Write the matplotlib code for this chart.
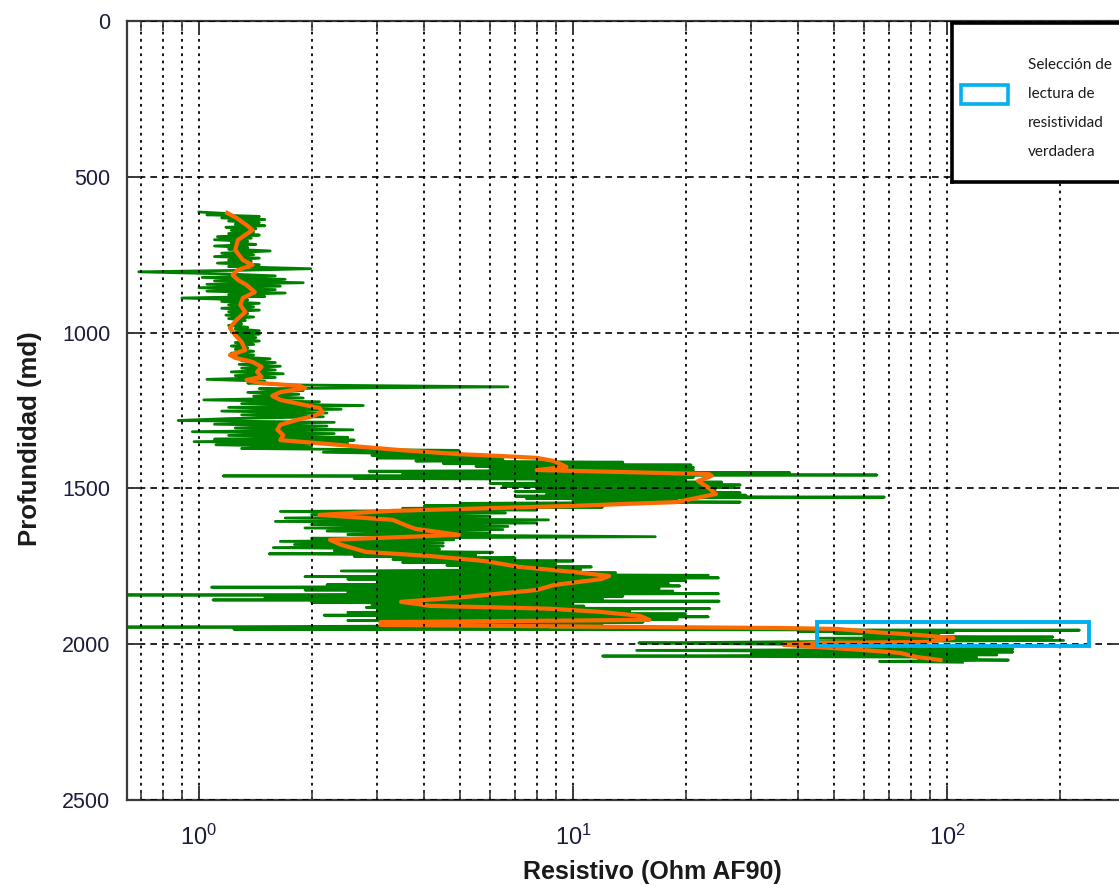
import matplotlib
matplotlib.use('Agg')
import matplotlib.pyplot as plt
from matplotlib.patches import Rectangle
from matplotlib.ticker import LogLocator, NullFormatter

# registro AF90: profundidad (md) vs resistividad (ohm)
prof_raw = [
    613, 618, 622, 627, 632, 637, 642, 647, 652, 657,
    662, 667, 672, 677, 682, 687, 692, 697, 702, 707,
    712, 717, 722, 727, 732, 738, 745, 750, 756, 761,
    767, 772, 777, 782, 788, 795, 800, 805, 812, 818,
    823, 829, 834, 840, 845, 851, 856, 862, 867, 873,
    878, 884, 889, 895, 900, 906, 911, 917, 922, 928,
    933, 939, 944, 950, 955, 961, 966, 972, 977, 983,
    988, 994, 999, 1005, 1010, 1016, 1021, 1027, 1032, 1038,
    1043, 1049, 1054, 1060, 1066, 1072, 1078, 1084, 1090, 1096,
    1102, 1108, 1114, 1120, 1126, 1132, 1138, 1144, 1150, 1156,
    1162, 1168, 1174, 1180, 1186, 1192, 1198, 1204, 1210, 1216,
    1222, 1228, 1234, 1240, 1246, 1252, 1258, 1264, 1270, 1276,
    1282, 1288, 1294, 1300, 1306, 1312, 1318, 1324, 1330, 1336,
    1342, 1345, 1350, 1355, 1360, 1366, 1372, 1378, 1384, 1390,
    1394, 1398, 1402, 1407, 1412, 1416, 1420, 1425, 1429, 1433,
    1437, 1441, 1445, 1450, 1454, 1457, 1460, 1464, 1468, 1472,
    1476, 1480, 1484, 1489, 1493, 1497, 1501, 1505, 1510, 1514,
    1518, 1522, 1525, 1528, 1532, 1536, 1540, 1544, 1548, 1552,
    1556, 1560, 1564, 1569, 1574, 1579, 1584, 1590, 1595, 1601,
    1606, 1611, 1616, 1622, 1627, 1632, 1637, 1643, 1648, 1655,
    1660, 1665, 1670, 1675, 1680, 1685, 1690, 1695, 1700, 1705,
    1710, 1714, 1718, 1723, 1728, 1733, 1737, 1742, 1747, 1752,
    1756, 1760, 1765, 1770, 1775, 1779, 1783, 1787, 1791, 1796,
    1800, 1805, 1809, 1813, 1817, 1821, 1826, 1830, 1834, 1838,
    1842, 1846, 1850, 1855, 1858, 1862, 1866, 1870, 1874, 1878,
    1882, 1886, 1890, 1894, 1898, 1903, 1907, 1912, 1916, 1920,
    1924, 1929, 1934, 1940, 1945, 1949, 1952, 1955, 1958, 1962,
    1966, 1970, 1974, 1977, 1981, 1985, 1988, 1992, 1996, 2000,
    2003, 2008, 2012, 2016, 2020, 2025, 2029, 2034, 2038, 2042,
    2046, 2051, 2055, 2058]
res_raw = [
    1.0, 1.2, 1.05, 1.45, 1.15, 1.5, 1.2, 1.45, 1.25, 1.5,
    1.18, 1.42, 1.22, 1.4, 1.2, 1.45, 1.12, 1.38, 1.1, 1.35,
    1.22, 1.42, 1.1, 1.35, 1.2, 1.55, 1.15, 1.4, 1.1, 1.45,
    1.2, 1.38, 1.12, 1.45, 1.2, 1.99, 1.3, 0.69, 1.2, 1.6,
    1.02, 1.7, 1.1, 1.9, 1.05, 1.65, 1.0, 1.6, 1.05, 1.7,
    1.2, 1.5, 0.9, 1.35, 1.15, 1.45, 1.2, 1.4, 1.15, 1.45,
    1.2, 1.35, 1.18, 1.4, 1.2, 1.33, 1.25, 1.3, 1.2, 1.35,
    1.25, 1.45, 1.22, 1.45, 1.25, 1.42, 1.28, 1.45, 1.25, 1.4,
    1.22, 1.35, 1.25, 1.4, 1.22, 1.4, 1.25, 1.55, 1.3, 1.6,
    1.28, 1.65, 1.3, 1.6, 1.22, 1.68, 1.25, 1.6, 1.05, 1.5,
    1.35, 1.8, 6.7, 1.45, 1.9, 1.35, 1.85, 1.4, 1.9, 1.03,
    2.1, 1.3, 2.75, 1.2, 2.4, 1.15, 2.2, 1.3, 2.15, 1.2,
    0.88, 2.3, 1.1, 2.2, 1.25, 2.58, 0.96, 2.3, 1.2, 2.5,
    1.1, 2.6, 0.97, 2.5, 1.11, 2.0, 1.3, 4.95, 2.15, 4.5,
    2.9, 7.0, 3.0, 6.5, 3.8, 13.6, 4.5, 20.7, 5.5, 21.0,
    6.0, 21.0, 2.85, 38.0, 3.5, 65.0, 1.16, 21.0, 2.6, 20.0,
    8.0, 25.0, 6.0, 28.0, 6.5, 27.0, 8.0, 24.0, 7.0, 28.0,
    8.5, 29.0, 7.0, 68.0, 7.5, 19.0, 10.0, 28.0, 5.0, 13.0,
    4.0, 12.0, 3.5, 8.0, 1.65, 6.6, 2.0, 6.0, 1.7, 8.6,
    1.6, 8.0, 2.0, 6.7, 1.92, 6.5, 2.2, 6.0, 2.5, 16.6,
    2.0, 4.8, 1.65, 4.5, 1.8, 4.5, 1.58, 4.4, 2.3, 6.1,
    1.54, 5.5, 2.6, 7.0, 3.3, 10.0, 3.5, 9.0, 4.6, 11.2,
    5.0, 10.5, 2.4, 13.0, 3.0, 23.0, 1.92, 24.5, 2.5, 20.0,
    3.0, 18.0, 2.2, 19.3, 1.08, 17.0, 1.92, 18.5, 2.5, 24.5,
    0.6, 13.6, 1.5, 12.0, 1.09, 24.6, 2.0, 10.0, 2.9, 10.7,
    2.8, 23.2, 3.0, 14.2, 2.5, 20.0, 2.16, 23.0, 3.0, 19.0,
    2.5, 15.4, 4.0, 12.0, 0.6, 8.6, 1.24, 226, 40, 104,
    50, 95, 60, 192, 45, 110, 205, 40, 15, 36,
    40, 120, 60, 150, 14.8, 150, 30, 136, 12, 120,
    84, 146, 66, 110]

# curva suavizada
prof_suav = [
    616, 632, 655, 671, 703, 735, 767, 783, 799, 815,
    831, 847, 870, 889, 911, 934, 959, 985, 1008, 1030,
    1056, 1072, 1081, 1094, 1110, 1126, 1142, 1152, 1162, 1171,
    1178, 1191, 1203, 1216, 1229, 1242, 1255, 1268, 1280, 1296,
    1312, 1329, 1345, 1361, 1377, 1390, 1396, 1402, 1412, 1431,
    1441, 1454, 1460, 1476, 1499, 1518, 1544, 1556, 1572, 1585,
    1601, 1620, 1630, 1649, 1665, 1681, 1704, 1717, 1733, 1752,
    1768, 1781, 1791, 1810, 1826, 1848, 1864, 1877, 1886, 1896,
    1909, 1922, 1929, 1938, 1945, 1948, 1951, 1961, 1970, 1980,
    1993, 1996, 2002, 2018, 2028, 2041, 2051]
res_suav = [
    1.19, 1.26, 1.34, 1.39, 1.27, 1.25, 1.31, 1.39, 1.27, 1.23,
    1.27, 1.34, 1.41, 1.31, 1.29, 1.33, 1.26, 1.21, 1.25, 1.30,
    1.33, 1.21, 1.25, 1.39, 1.47, 1.43, 1.47, 1.34, 1.46, 1.86,
    1.92, 1.65, 1.57, 1.65, 1.86, 2.1, 2.14, 2.02, 1.83, 1.65,
    1.62, 1.68, 1.65, 2.4, 3.45, 4.95, 6.4, 8.0, 8.9, 9.6,
    8.0, 23.1, 23.5, 21.6, 23.1, 24.1, 18.9, 10.0, 3.3, 2.1,
    3.3, 3.6, 3.8, 4.95, 2.24, 2.4, 2.8, 4.15, 5.8, 7.2,
    10.0, 12.5, 11.9, 8.9, 8.0, 5.2, 3.47, 4.15, 8.6, 11.8,
    15.1, 16.0, 3.06, 3.06, 16.1, 35.8, 50.9, 63.6, 83, 104,
    88, 43.8, 36.6, 58.6, 75, 83, 96]

# zona seleccionada (resistividad verdadera)
sel_res = [45, 240]
sel_prof = [1928, 2006]

prof_ticks = [0, 500, 1000, 1500, 2000, 2500]
leyenda = ['Selección de', 'lectura de', 'resistividad', 'verdadera']

plt.rcParams['font.family'] = ['Liberation Sans', 'DejaVu Sans']
plt.rcParams['mathtext.fontset'] = 'custom'
plt.rcParams['mathtext.rm'] = 'Liberation Sans'

fig = plt.figure(figsize=(11.19, 8.85), dpi=100)
ax = fig.add_axes([127/1119, 85/885, 998.4/1119, 779/885])

ax.plot(res_raw, prof_raw, color='#008000', lw=2.0)
ax.plot(res_suav, prof_suav, color='#FF6A00', lw=3.0)
ax.add_patch(Rectangle((sel_res[0], sel_prof[0]), sel_res[1]-sel_res[0],
                       sel_prof[1]-sel_prof[0], fill=False,
                       edgecolor='#00B0F0', lw=2.8, zorder=4))

ax.set_xscale('log')
ax.set_xlim(0.642, 300)
ax.set_ylim(2500, 0)
ax.set_yticks(prof_ticks)
ax.xaxis.set_minor_locator(LogLocator(base=10, subs=range(2, 10)))
ax.xaxis.set_minor_formatter(NullFormatter())

ax.set_axisbelow(False)
ax.xaxis.grid(True, which='both', color='k', lw=1.3, ls=(0, (1.5, 2.5)))
ax.yaxis.grid(True, which='major', color='k', lw=1.2, ls=(0, (4, 3)))

for s in ax.spines.values():
    s.set_color('#3a3a3a')
    s.set_linewidth(1.6)
ax.tick_params(which='both', direction='in', top=True, right=True,
               color='#3a3a3a', labelcolor='#1c1c3c')
ax.tick_params(which='major', length=10, width=1.4)
ax.tick_params(which='minor', length=7, width=1.2)
ax.tick_params(axis='y', labelsize=15.5, pad=12)
ax.tick_params(axis='x', labelsize=17, pad=18)

ax.set_xlabel('Resistivo (Ohm AF90)', fontsize=18, fontweight='bold',
              color='#1a1a1a', va='center')
ax.xaxis.set_label_coords((652 - 127) / 998.4, (800 - 872) / 779)
ax.set_ylabel('Profundidad (md)', fontsize=18.5, fontweight='bold',
              color='#1a1a1a', va='center')
ax.yaxis.set_label_coords((30 - 127) / 998.4, (800 - 439) / 779)

# caja de leyenda
lg = fig.add_axes([952/1119, 703/885, 0.16, 159/885])
lg.set_xlim(0, 1)
lg.set_ylim(0, 1)
lg.set_xticks([])
lg.set_yticks([])
for s in lg.spines.values():
    s.set_color('black')
    s.set_linewidth(2.6)
lg.add_patch(Rectangle((0.05, 0.49), 0.265, 0.12, fill=False,
                       edgecolor='#00B0F0', lw=2.6))
for i, linea in enumerate(leyenda):
    lg.text(0.425, 0.736 - i * 0.182, linea, fontsize=11, family='Lato',
            va='center', ha='left', color='#1a1a1a')

fig.savefig('out.png', dpi=100)
